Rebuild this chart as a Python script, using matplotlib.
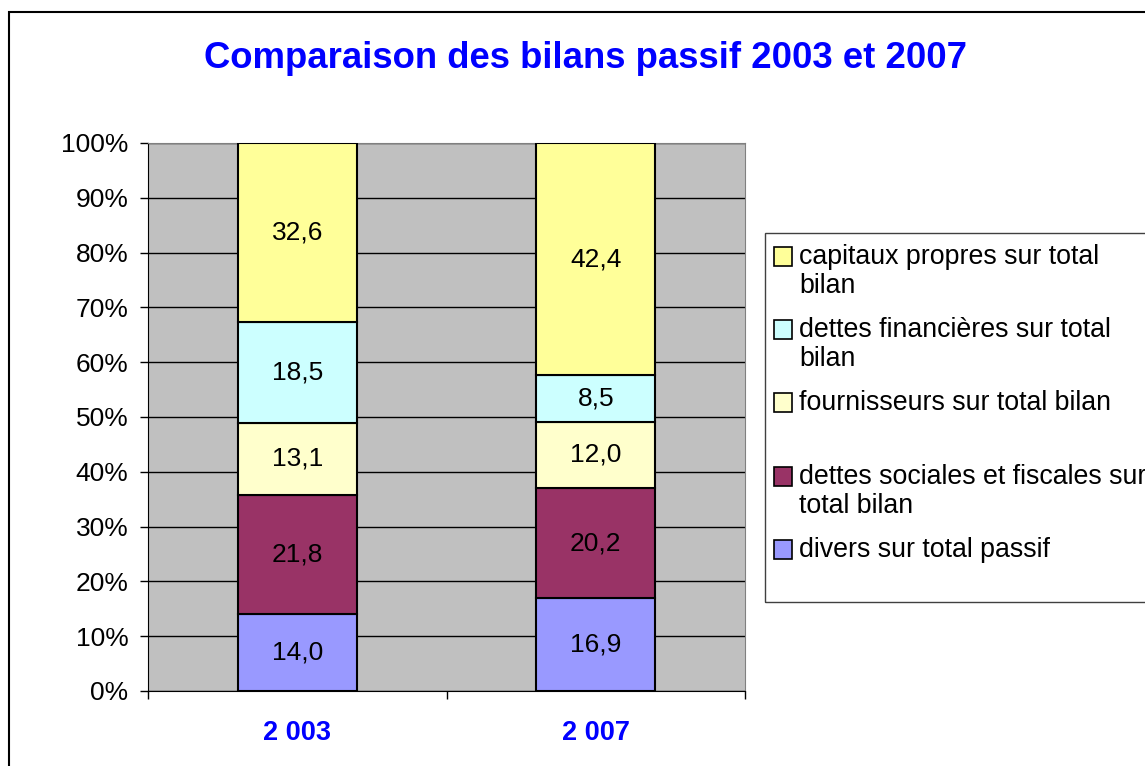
import matplotlib
matplotlib.use("Agg")
import matplotlib.pyplot as plt
from matplotlib.patches import Rectangle
import numpy as np

plt.rcParams['font.family'] = ['Liberation Sans', 'DejaVu Sans']

years = ["2 003", "2 007"]
series = ["divers sur total passif",
          "dettes sociales et fiscales sur\ntotal bilan",
          "fournisseurs sur total bilan",
          "dettes financières sur total\nbilan",
          "capitaux propres sur total\nbilan"]
values = [[14.0, 16.9],
          [21.8, 20.2],
          [13.1, 12.0],
          [18.5, 8.5],
          [32.6, 42.4]]
colors = ["#9999FF", "#993366", "#FFFFCC", "#CCFFFF", "#FFFF99"]

W, H = 1145, 766
fig = plt.figure(figsize=(W / 100, H / 100), dpi=100)

def fx(px):
    return px / W

def fy(py):
    return 1 - py / H

# outer chart frame (cut off on the right and bottom)
fig.patches.append(Rectangle((fx(9), -0.05), 1.1, fy(12) + 0.05, transform=fig.transFigure,
                             fill=False, edgecolor="black", linewidth=1.5))

ax = fig.add_axes([fx(148), fy(691), fx(745) - fx(148), fy(143) - fy(691)])
ax.set_facecolor("#C0C0C0")

x = np.arange(len(years))
bottom = np.zeros(len(years))
for vals, col in zip(values, colors):
    vals = np.array(vals)
    ax.bar(x, vals, 0.4, bottom=bottom, color=col, edgecolor="black", linewidth=1.5, zorder=3)
    for xi, b, v in zip(x, bottom, vals):
        ax.text(xi, b + v / 2, f"{v:.1f}".replace(".", ","), ha="center", va="center",
                fontsize=19, zorder=4)
    bottom += vals

ax.set_xlim(-0.5, 1.5)
ax.set_ylim(0, 100)
ax.set_yticks(np.arange(0, 101, 10))
ax.set_yticklabels([f"{t}%" for t in range(0, 101, 10)], fontsize=19)
ax.yaxis.grid(True, color="black", linewidth=1)
ax.set_axisbelow(True)
ax.tick_params(axis="y", length=6, width=1, pad=8)

ax.set_xticks(x)
ax.set_xticklabels(years, fontsize=19.5, fontweight="bold", color="#0000FF")
ax.set_xticks([-0.5, 0.5, 1.5], minor=True)
ax.tick_params(axis="x", which="major", length=0, pad=21)
ax.tick_params(axis="x", which="minor", length=6, width=1)

for s in ["top", "right"]:
    ax.spines[s].set_color("#808080")
for s in ["left", "bottom"]:
    ax.spines[s].set_color("black")

fig.text(fx(586), fy(58), "Comparaison des bilans passif 2003 et 2007", ha="center", va="center",
         fontsize=26.3, fontweight="bold", color="#0000FF")

# legend, drawn by hand to keep the markers on the first text line
fig.patches.append(Rectangle((fx(765), fy(602)), 1.0, fy(233) - fy(602), transform=fig.transFigure,
                             fill=False, edgecolor="#404040", linewidth=1))
entry_tops = [247, 320, 393, 467, 540]
for top, lab, col in zip(entry_tops, series[::-1], colors[::-1]):
    fig.patches.append(Rectangle((fx(774), fy(top + 19)), fx(18), 19 / H, transform=fig.transFigure,
                                 facecolor=col, edgecolor="black", linewidth=1.2))
    fig.text(fx(799), fy(top - 3), lab, ha="left", va="top", fontsize=19.3, linespacing=1.13)

fig.savefig("out.png", dpi=100)
